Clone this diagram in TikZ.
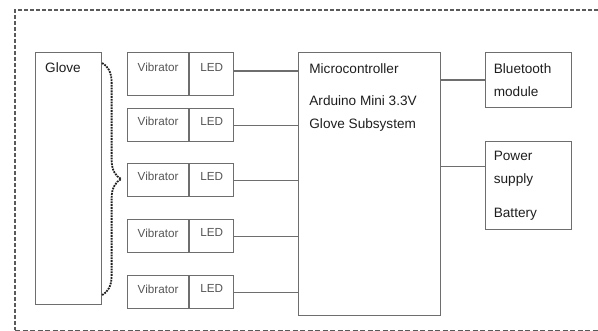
\documentclass[tikz,border=0pt]{standalone}
\usepackage{fontspec}
\setmainfont{Liberation Sans}
\usetikzlibrary{positioning, calc, decorations.pathreplacing}
\definecolor{boxgrey}{HTML}{6E6E6E}
\definecolor{inkdark}{HTML}{1E1E1E}
\definecolor{inklight}{HTML}{555555}
\definecolor{framegrey}{HTML}{5A5A5A}

\begin{document}
\begin{tikzpicture}[
    x=1pt, y=1pt,
    every node/.style={font=\fontsize{13.6}{23}\selectfont, text=inkdark},
    block/.style={
      rectangle, draw=boxgrey, line width=1.1pt, inner sep=0pt
    },
    vibbox/.style={
      block, minimum width=61pt, minimum height=33pt, text depth=7pt,
      font=\fontsize{11.7}{14}\selectfont, text=inklight
    },
    ledbox/.style={
      block, minimum width=44pt, minimum height=33pt, text depth=7pt,
      font=\fontsize{11.7}{14}\selectfont, text=inklight
    },
    sidebox/.style={
      block, minimum width=86pt, text width=70pt, align=left
    },
    boxlabel/.style={inner sep=0pt, align=left},
    wire/.style={draw=boxgrey, line width=1.1pt},
    bracedot/.style={
      decorate, decoration={brace, amplitude=19pt},
      draw=inkdark, line width=1.8pt, dash pattern=on 1.8pt off 1pt
    },
    framedash/.style={draw=framegrey, line width=1.6pt, dash pattern=on 4pt off 2pt},
    framethin/.style={draw=framegrey, line width=0.9pt, dash pattern=on 5pt off 2.5pt}
  ]
  \useasboundingbox (0,0) rectangle (598,-331);

  % ===== outer frame (runs off the right edge) =====
  \draw[framedash] (598,-10) -- (15,-10) -- (15,-330);
  \draw[framethin] (15,-330) -- (598,-330);

  % ===== glove =====
  \node[block, minimum width=66pt, minimum height=252pt, anchor=north west]
    (glove) at (35,-52) {};
  \node[boxlabel, below right=10pt and 10pt of glove.north west] (glovetext) {Glove};

  % ===== vibrator / LED pairs =====
  \node[vibbox, minimum height=43pt, text depth=14pt, anchor=north west]
    (vib1) at (127,-52) {Vibrator};
  \node[ledbox, minimum height=43pt, text depth=14pt, right=0pt of vib1] (led1) {LED};

  \node[vibbox, below=12pt of vib1] (vib2) {Vibrator};
  \node[ledbox, right=0pt of vib2] (led2) {LED};

  \node[vibbox, below=21pt of vib2] (vib3) {Vibrator};
  \node[ledbox, right=0pt of vib3] (led3) {LED};

  \node[vibbox, below=22pt of vib3] (vib4) {Vibrator};
  \node[ledbox, right=0pt of vib4] (led4) {LED};

  \node[vibbox, below=22pt of vib4] (vib5) {Vibrator};
  \node[ledbox, right=0pt of vib5] (led5) {LED};

  \draw[bracedot] ([yshift=-11pt]glove.north east) -- ([yshift=10pt]glove.south east);

  % ===== microcontroller =====
  \node[block, minimum width=142pt, minimum height=263pt,
        right=64pt of led1.north east, anchor=north west] (mc) {};
  \node[boxlabel, below right=11pt and 11pt of mc.north west] (mctext)
    {Microcontroller\\[9pt]Arduino Mini 3.3V\\Glove Subsystem};

  \draw[wire] ([yshift=3pt]led1.east) -- ([yshift=3pt]led1.east -| mc.west);
  \draw[wire] (led2) -- (led2 -| mc.west);
  \draw[wire] (led3) -- (led3 -| mc.west);
  \draw[wire] (led4) -- (led4 -| mc.west);
  \draw[wire] (led5) -- (led5 -| mc.west);

  % ===== bluetooth and power =====
  \node[sidebox, minimum height=55pt, right=44pt of mc.north east, anchor=north west]
    (bt) {Bluetooth\\module};
  \node[sidebox, minimum height=88pt, below=33pt of bt]
    (pwr) {Power\\supply\\[11pt]Battery};

  \coordinate (pwrtap) at ([yshift=19pt]pwr.west);
  \draw[wire] (mc.east |- bt.west) -- (bt.west);
  \draw[wire] (mc.east |- pwrtap) -- (pwrtap);

\end{tikzpicture}
\end{document}
